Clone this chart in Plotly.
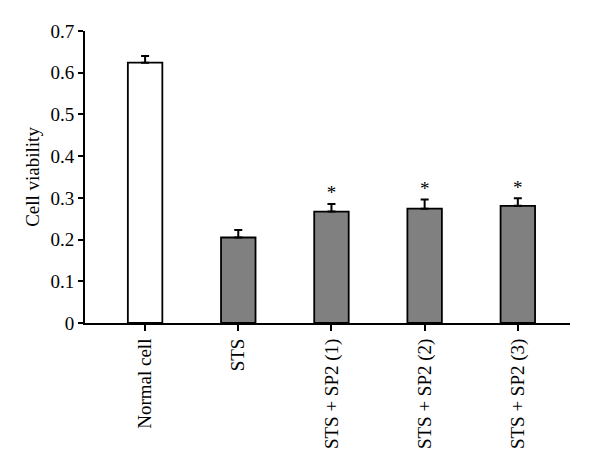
import plotly.graph_objects as go

# data
groups = ["Normal cell", "STS", "STS + SP2 (1)", "STS + SP2 (2)", "STS + SP2 (3)"]
viability = [0.624, 0.205, 0.267, 0.274, 0.281]
err_upper = [0.016, 0.018, 0.018, 0.022, 0.018]
signif = ["", "", "*", "*", "*"]
bar_colors = ["white", "#808080", "#808080", "#808080", "#808080"]

serif = "Liberation Serif, Times New Roman, serif"
xs = list(range(len(groups)))

fig = go.Figure()
fig.add_trace(go.Bar(
    x=xs, y=viability, width=0.37,
    marker=dict(color=bar_colors, line=dict(color="black", width=1.8)),
    error_y=dict(type="data", symmetric=False, array=err_upper,
                 arrayminus=[0] * len(groups),
                 color="black", thickness=2, width=4),
))

# significance marks above the error bars
fig.add_trace(go.Scatter(
    x=xs, y=[v + e for v, e in zip(viability, err_upper)],
    mode="text", text=signif, textposition="top center",
    textfont=dict(family=serif, size=19, color="black"),
))

# page has an 8px body margin, margins are trimmed to compensate
fig.update_layout(
    width=600, height=467,
    margin=dict(l=77, r=38, t=23, b=152),
    paper_bgcolor="white", plot_bgcolor="white",
    showlegend=False,
    font=dict(family=serif, size=18, color="black"),
)
fig.update_xaxes(
    range=[-0.645, 4.56], tickvals=xs, ticktext=groups, tickangle=-90,
    showline=True, linecolor="black", linewidth=2,
    ticks="outside", ticklen=6, tickwidth=2, tickcolor="black",
    showgrid=False, zeroline=False, tickfont=dict(size=19),
)
fig.update_yaxes(
    range=[0, 0.7], dtick=0.1,
    title=dict(text="Cell viability", font=dict(size=19), standoff=6),
    showline=True, linecolor="black", linewidth=2,
    ticks="outside", ticklen=5, tickwidth=2, tickcolor="black",
    showgrid=False, zeroline=False, tickfont=dict(size=19),
)

fig.write_html("out.html")
